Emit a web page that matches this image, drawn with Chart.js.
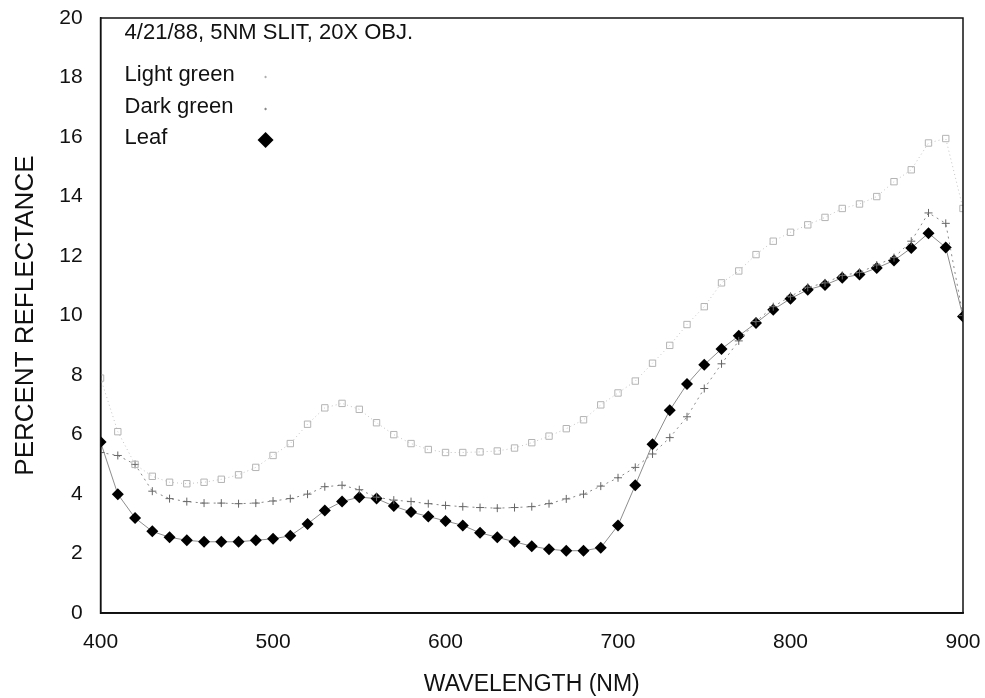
<!DOCTYPE html>
<html>
<head>
<meta charset="utf-8">
<script src="https://cdn.jsdelivr.net/npm/chart.js@4/dist/chart.umd.min.js"></script>
<style>
  html, body { margin: 0; padding: 0; background: #fff; }
  #wrap { width: 985px; height: 698px; }
</style>
</head>
<body>
<div id="wrap"><canvas id="chartCanvas" width="985" height="698"></canvas></div>
<script>
// wavelength every 10 nm, 400..900
var wavelengths = [];
for (var w = 400; w <= 900; w += 10) wavelengths.push(w);

var lightGreen = [7.9, 6.1, 5.0, 4.6, 4.4, 4.35, 4.4, 4.5, 4.65, 4.9, 5.3, 5.7, 6.35, 6.9, 7.05,
  6.85, 6.4, 6.0, 5.7, 5.5, 5.4, 5.4, 5.42, 5.45, 5.55, 5.73, 5.95, 6.2, 6.5, 7.0,
  7.4, 7.8, 8.4, 9.0, 9.7, 10.3, 11.1, 11.5, 12.05, 12.5, 12.8, 13.05, 13.3, 13.6, 13.75,
  14.0, 14.5, 14.9, 15.8, 15.95, 13.6];

var darkGreen = [5.4, 5.3, 5.0, 4.1, 3.85, 3.75, 3.7, 3.7, 3.68, 3.7, 3.77, 3.85, 4.0, 4.25, 4.3,
  4.15, 3.9, 3.8, 3.75, 3.68, 3.62, 3.58, 3.55, 3.53, 3.55, 3.58, 3.68, 3.84, 4.0, 4.27,
  4.55, 4.9, 5.35, 5.9, 6.6, 7.55, 8.38, 9.15, 9.8, 10.3, 10.65, 10.95, 11.1, 11.35, 11.45,
  11.7, 11.95, 12.5, 13.45, 13.1, 10.0];

var leaf = [5.75, 4.0, 3.2, 2.75, 2.55, 2.45, 2.4, 2.4, 2.4, 2.45, 2.5, 2.6, 3.0, 3.45, 3.75,
  3.9, 3.85, 3.6, 3.4, 3.25, 3.1, 2.95, 2.7, 2.55, 2.4, 2.25, 2.15, 2.1, 2.1, 2.2,
  2.95, 4.3, 5.68, 6.82, 7.7, 8.35, 8.88, 9.32, 9.75, 10.2, 10.57, 10.87, 11.03, 11.27, 11.38,
  11.6, 11.85, 12.27, 12.77, 12.29, 9.97];

var xTicks = [400, 500, 600, 700, 800, 900];
var yTicks = [0, 2, 4, 6, 8, 10, 12, 14, 16, 18, 20];

var seriesNames = ['Light green', 'Dark green', 'Leaf'];
var noteText = '4/21/88, 5NM SLIT, 20X OBJ.';

function pts(vals) {
  return wavelengths.map(function (x, i) { return { x: x, y: vals[i] }; });
}

var FONT = "'Liberation Sans', Arial, sans-serif";

// box around the plot + note and legend inside the plot area
var boxAndLegend = {
  id: 'boxAndLegend',
  afterDraw: function (chart) {
    var c = chart.ctx, a = chart.chartArea;
    c.save();
    c.strokeStyle = '#111';
    c.lineWidth = 1.5;
    c.strokeRect(a.left, a.top, a.right - a.left, a.bottom - a.top);

    c.font = '22px ' + FONT;
    c.textBaseline = 'middle';
    c.textAlign = 'left';
    var lx = a.left + 24;
    c.fillStyle = '#111';
    c.fillText(noteText, lx, a.top + 15);
    var rows = [a.top + 57, a.top + 89, a.top + 120];
    chart.data.datasets.forEach(function (ds, i) {
      c.fillStyle = '#111';
      c.fillText(seriesNames[i], lx, rows[i]);
      c.strokeStyle = i === 0 ? '#ccc' : '#999';
      c.fillStyle = '#000';
      c.lineWidth = 1;
      Chart.helpers.drawPoint(c, {
        pointStyle: i === 2 ? 'rectRot' : 'circle',
        radius: i === 2 ? 8 : 0.8,
        borderWidth: i === 2 ? 0 : 1
      }, a.left + 165, rows[i] + 2);
    });
    c.restore();
  }
};

// labels may hang outside the plot box, so drop the extra edge padding
function noEdgePad(scale) {
  scale.paddingTop = 0;
  scale.paddingBottom = 0;
  scale.paddingLeft = 0;
  scale.paddingRight = 0;
}

var ctx = document.getElementById('chartCanvas').getContext('2d');
var chart = new Chart(ctx, {
  type: 'scatter',
  data: {
    datasets: [{
      label: seriesNames[0],
      data: pts(lightGreen),
      showLine: true,
      borderColor: '#c4c4c4',
      borderWidth: 1,
      borderDash: [1, 3],
      pointStyle: 'rect',
      pointRadius: 4.5,
      pointBorderWidth: 1,
      pointBorderColor: '#b4b4b4',
      pointBackgroundColor: 'rgba(255,255,255,0)'
    }, {
      label: seriesNames[1],
      data: pts(darkGreen),
      showLine: true,
      borderColor: '#888',
      borderWidth: 1,
      borderDash: [2, 4],
      pointStyle: 'cross',
      pointRadius: 4,
      pointBorderWidth: 1,
      pointBorderColor: '#666',
      pointBackgroundColor: '#666'
    }, {
      label: seriesNames[2],
      data: pts(leaf),
      showLine: true,
      borderColor: 'rgba(0,0,0,0.45)',
      borderWidth: 1,
      pointStyle: 'rectRot',
      pointRadius: 6,
      pointBorderWidth: 0,
      pointBorderColor: '#000',
      pointBackgroundColor: '#000'
    }]
  },
  options: {
    responsive: false,
    animation: false,
    layout: { padding: { top: 18, right: 22, left: 10, bottom: 0 } },
    plugins: {
      legend: { display: false },
      tooltip: { enabled: false }
    },
    scales: {
      x: {
        type: 'linear',
        min: 400,
        max: 900,
        afterBuildTicks: function (axis) { axis.ticks = xTicks.map(function (v) { return { value: v }; }); },
        afterFit: noEdgePad,
        grid: { display: false, drawTicks: false },
        border: { display: true, color: '#111', width: 1.5 },
        ticks: { color: '#111', font: { family: FONT, size: 21 }, padding: 16, maxRotation: 0 },
        title: { display: true, text: 'WAVELENGTH (NM)', color: '#111', font: { family: FONT, size: 23 }, padding: { top: 0, bottom: 0 } }
      },
      y: {
        type: 'linear',
        min: 0,
        max: 20,
        afterBuildTicks: function (axis) { axis.ticks = yTicks.map(function (v) { return { value: v }; }); },
        afterFit: noEdgePad,
        grid: { display: false, drawTicks: false },
        border: { display: true, color: '#111', width: 1.5 },
        ticks: { color: '#111', font: { family: FONT, size: 21 }, padding: 18 },
        title: { display: true, text: 'PERCENT REFLECTANCE', color: '#111', font: { family: FONT, size: 26 }, padding: { top: 0, bottom: 0 } }
      }
    }
  },
  plugins: [boxAndLegend]
});
</script>
</body>
</html>
